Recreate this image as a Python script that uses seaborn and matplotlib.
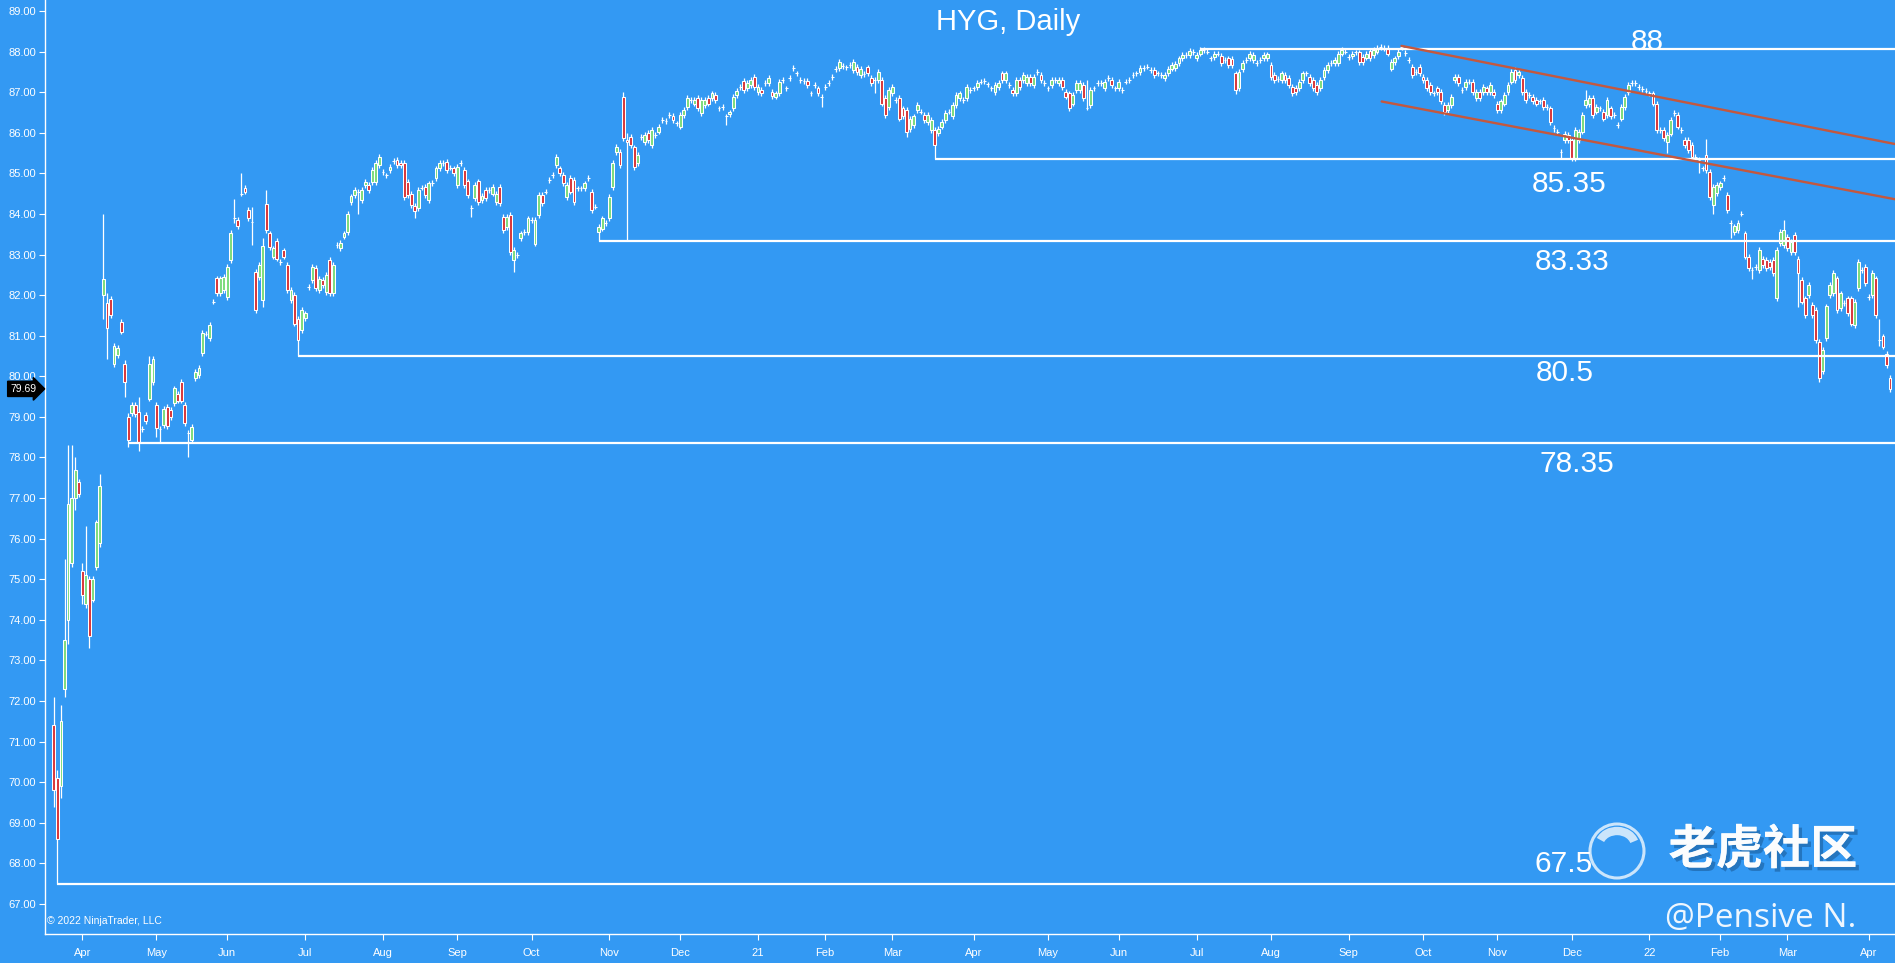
import numpy as np
import pandas as pd
import matplotlib
matplotlib.use("Agg")
import matplotlib.pyplot as plt
import matplotlib.patheffects as pe
from matplotlib.patches import Circle, Arc
from matplotlib.ticker import FormatStrFormatter
from matplotlib.transforms import blended_transform_factory
import seaborn as sns

# ---- DATA (HYG daily) ----
first_day = "2020-03-20"
last_day = "2022-04-11"
market_holidays = ["2020-04-10", "2020-05-25", "2020-07-03", "2020-09-07", "2020-11-26",
                   "2020-12-25", "2021-01-01", "2021-01-18", "2021-02-15", "2021-04-02",
                   "2021-05-31", "2021-07-05", "2021-09-06", "2021-11-25", "2021-12-24",
                   "2022-01-17", "2022-02-21"]

opens = [
    71.4, 70.1, 69.9, 72.3, 74.0, 75.4, 77.0, 77.4, 75.2, 74.4,
    75.0, 74.5, 75.3, 75.9, 82.0, 81.8, 81.9, 80.3, 80.53, 81.33,
    80.3, 79.0, 79.1, 79.29, 79.12, 78.7, 79.05, 79.45, 79.86, 79.3,
    78.7, 78.8, 79.25, 79.18, 79.35, 79.57, 79.86, 79.3, 78.6, 78.43,
    79.95, 80.03, 80.57, 81.05, 80.94, 81.84, 82.41, 82.04, 82.13, 81.96,
    82.86, 83.9, 83.85, 84.5, 84.65, 84.1, 83.8, 82.58, 82.45, 81.88,
    84.24, 83.52, 82.95, 83.34, 82.82, 83.1, 82.74, 81.88, 82.0, 81.42,
    81.14, 81.43, 82.2, 82.37, 82.66, 82.13, 82.37, 82.08, 82.86, 82.04,
    83.24, 83.15, 83.44, 83.56, 84.3, 84.47, 84.55, 84.34, 84.71, 84.71,
    84.79, 84.79, 85.2, 85.04, 84.95, 85.08, 85.3, 85.33, 85.25, 85.25,
    84.79, 84.5, 84.2, 84.14, 84.65, 84.67, 84.34, 84.77, 84.88, 85.12,
    85.25, 85.29, 85.14, 85.12, 84.71, 85.25, 85.08, 84.8, 84.14, 84.38,
    84.8, 84.34, 84.59, 84.59, 84.5, 84.3, 84.67, 83.93, 83.68, 83.97,
    82.86, 82.99, 83.4, 83.56, 83.56, 83.85, 83.27, 83.97, 84.47, 84.55,
    84.83, 84.96, 85.2, 85.12, 84.96, 84.42, 84.88, 84.83, 84.63, 84.63,
    84.63, 84.88, 84.55, 84.18, 83.55, 83.64, 83.77, 83.89, 84.67, 85.53,
    85.53, 86.87, 85.82, 85.9, 85.64, 85.25, 85.9, 85.78, 86.0, 85.7,
    85.94, 86.03, 86.31, 86.29, 86.44, 86.41, 86.23, 86.15, 86.44, 86.64,
    86.81, 86.72, 86.85, 86.48, 86.68, 86.85, 86.85, 86.93, 86.6, 86.64,
    86.4, 86.45, 86.6, 86.93, 87.13, 87.27, 87.09, 87.17, 87.38, 87.0,
    87.05, 87.22, 87.22, 87.0, 86.89, 86.97, 87.3, 87.09, 87.34, 87.59,
    87.46, 87.3, 87.28, 87.28, 86.97, 87.17, 87.09, 86.89, 87.13, 87.23,
    87.38, 87.57, 87.59, 87.64, 87.61, 87.67, 87.55, 87.63, 87.42, 87.45,
    87.61, 87.36, 87.3, 87.3, 87.3, 86.85, 86.64, 86.97, 86.81, 86.85,
    86.6, 86.56, 86.1, 86.19, 86.56, 86.52, 86.44, 86.27, 86.07, 86.07,
    86.0, 86.15, 86.31, 86.52, 86.4, 86.68, 86.85, 86.8, 86.85, 87.05,
    87.09, 87.13, 87.26, 87.28, 87.19, 87.09, 87.0, 87.13, 87.46, 87.3,
    87.17, 87.05, 86.97, 87.3, 87.3, 87.22, 87.38, 87.17, 87.5, 87.42,
    87.22, 87.09, 87.17, 87.3, 87.22, 87.31, 87.01, 86.97, 86.72, 87.05,
    87.05, 87.17, 86.6, 86.68, 87.09, 87.22, 87.22, 87.1, 87.34, 87.3,
    87.09, 87.1, 87.05, 87.26, 87.3, 87.42, 87.46, 87.5, 87.59, 87.63,
    87.55, 87.55, 87.46, 87.42, 87.34, 87.46, 87.58, 87.6, 87.71, 87.83,
    87.91, 87.91, 87.99, 87.83, 87.95, 88.04, 88.0, 87.83, 87.87, 87.95,
    87.89, 87.79, 87.83, 87.81, 87.46, 87.09, 87.56, 87.79, 87.83, 87.79,
    87.71, 87.79, 87.83, 87.83, 87.67, 87.42, 87.32, 87.3, 87.42, 87.34,
    87.13, 87.1, 87.09, 87.3, 87.46, 87.38, 87.3, 87.17, 87.09, 87.38,
    87.55, 87.72, 87.72, 87.71, 87.95, 88.0, 87.87, 87.88, 87.98, 87.98,
    87.87, 87.85, 88.02, 87.91, 88.0, 88.12, 88.08, 88.08, 87.58, 87.75,
    87.89, 88.12, 87.96, 87.79, 87.63, 87.5, 87.63, 87.38, 87.31, 87.17,
    86.97, 87.09, 87.01, 86.68, 86.56, 86.68, 87.3, 87.38, 87.05, 87.13,
    87.26, 87.26, 86.85, 87.01, 87.01, 87.09, 87.01, 87.01, 86.72, 86.56,
    86.72, 87.01, 87.26, 87.55, 87.42, 87.34, 87.01, 86.93, 86.89, 86.81,
    86.77, 86.81, 86.64, 86.6, 86.11, 86.03, 85.53, 85.82, 85.94, 85.82,
    85.37, 85.82, 86.03, 86.68, 86.7, 86.85, 86.52, 86.6, 86.52, 86.44,
    86.6, 86.44, 86.19, 86.35, 86.64, 87.01, 87.22, 87.22, 87.13, 87.07,
    87.03, 86.97, 86.97, 86.72, 86.07, 86.07, 85.78, 85.98, 86.48, 86.44,
    86.07, 85.82, 85.82, 85.7, 85.41, 85.33, 85.12, 85.45, 85.04, 84.22,
    84.51, 84.67, 84.88, 84.47, 83.77, 83.56, 83.6, 84.01, 83.52, 82.95,
    82.62, 82.7, 82.62, 82.9, 82.86, 82.82, 82.86, 81.92, 83.28, 83.23,
    83.44, 83.07, 83.48, 82.9, 82.37, 81.92, 82.0, 81.76, 81.63, 80.85,
    80.12, 80.94, 82.0, 82.04, 82.41, 81.67, 81.8, 81.92, 81.92, 81.26,
    82.17, 82.62, 82.7, 81.96, 82.0, 82.41, 80.89, 80.98, 80.56, 79.95,
]

closes = [
    69.8, 68.6, 71.5, 73.5, 76.85, 77.0, 77.7, 77.1, 74.6, 75.1,
    73.6, 75.0, 76.4, 77.3, 82.4, 81.2, 81.5, 80.75, 80.7, 81.1,
    79.86, 78.44, 79.3, 79.06, 78.38, 78.7, 78.9, 80.3, 80.43, 78.73,
    78.7, 79.2, 78.77, 79.0, 79.7, 79.4, 79.4, 78.85, 78.6, 78.76,
    80.11, 80.2, 81.06, 81.05, 81.26, 81.84, 82.04, 82.41, 82.45, 82.7,
    83.54, 83.9, 83.7, 84.5, 84.55, 83.9, 83.8, 81.63, 82.74, 83.22,
    83.6, 83.19, 83.15, 82.9, 82.82, 82.95, 82.13, 82.13, 81.3, 80.9,
    81.63, 81.55, 82.2, 82.7, 82.17, 82.4, 82.25, 82.5, 82.04, 82.74,
    83.24, 83.28, 83.52, 84.0, 84.43, 84.59, 84.55, 84.59, 84.79, 84.59,
    85.08, 85.25, 85.41, 85.04, 84.95, 85.16, 85.3, 85.2, 85.2, 84.42,
    84.47, 84.22, 84.06, 84.59, 84.65, 84.47, 84.75, 84.77, 85.12, 85.25,
    85.25, 85.08, 85.14, 85.0, 85.16, 85.25, 84.71, 84.47, 84.14, 84.71,
    84.3, 84.44, 84.38, 84.59, 84.67, 84.5, 84.26, 83.6, 83.93, 83.07,
    83.11, 82.99, 83.52, 83.56, 83.89, 83.85, 83.85, 84.47, 84.26, 84.55,
    84.83, 84.96, 85.41, 85.0, 84.75, 84.71, 84.55, 84.3, 84.63, 84.63,
    84.75, 84.88, 84.1, 84.18, 83.68, 83.89, 83.77, 84.42, 85.25, 85.66,
    85.2, 85.86, 85.78, 85.7, 85.16, 85.45, 85.9, 85.94, 85.82, 86.07,
    85.94, 86.15, 86.31, 86.29, 86.44, 86.31, 86.23, 86.44, 86.56, 86.85,
    86.81, 86.81, 86.6, 86.81, 86.81, 86.72, 86.97, 86.81, 86.6, 86.64,
    86.4, 86.5, 86.89, 87.04, 87.13, 87.05, 87.22, 87.3, 87.13, 87.13,
    86.97, 87.22, 87.34, 86.91, 86.97, 87.26, 87.3, 87.09, 87.34, 87.59,
    87.46, 87.3, 87.28, 87.17, 86.97, 87.17, 86.97, 86.89, 87.13, 87.23,
    87.38, 87.57, 87.75, 87.64, 87.61, 87.67, 87.75, 87.5, 87.58, 87.45,
    87.46, 87.22, 87.3, 87.5, 86.72, 86.44, 87.05, 87.13, 86.8, 86.35,
    86.4, 86.03, 86.35, 86.4, 86.68, 86.52, 86.31, 86.44, 86.31, 85.7,
    86.1, 86.27, 86.48, 86.52, 86.68, 86.93, 86.97, 86.8, 87.13, 87.05,
    87.09, 87.23, 87.26, 87.28, 87.19, 87.09, 87.17, 87.22, 87.3, 87.46,
    87.17, 86.97, 87.3, 87.13, 87.42, 87.38, 87.22, 87.38, 87.5, 87.3,
    87.22, 87.09, 87.3, 87.3, 87.31, 87.13, 86.89, 86.6, 86.93, 87.22,
    87.22, 86.85, 86.6, 87.05, 87.09, 87.22, 87.22, 87.25, 87.34, 87.17,
    87.09, 87.25, 87.05, 87.26, 87.3, 87.42, 87.46, 87.59, 87.59, 87.63,
    87.55, 87.42, 87.46, 87.42, 87.42, 87.58, 87.67, 87.7, 87.83, 87.91,
    87.91, 88.02, 87.99, 87.91, 88.05, 88.04, 88.0, 87.83, 87.95, 87.95,
    87.71, 87.79, 87.67, 87.67, 87.05, 87.5, 87.71, 87.79, 87.94, 87.91,
    87.71, 87.79, 87.91, 87.93, 87.38, 87.3, 87.32, 87.46, 87.3, 87.17,
    86.97, 87.0, 87.26, 87.46, 87.46, 87.22, 87.09, 87.01, 87.3, 87.55,
    87.67, 87.72, 87.79, 87.95, 88.04, 88.0, 87.87, 87.95, 87.98, 87.75,
    87.75, 87.95, 87.83, 88.04, 88.08, 88.12, 88.08, 87.95, 87.75, 87.83,
    88.0, 88.12, 87.96, 87.79, 87.42, 87.5, 87.46, 87.3, 87.09, 87.01,
    86.97, 87.01, 86.77, 86.52, 86.68, 86.89, 87.38, 87.22, 87.05, 87.26,
    87.26, 87.01, 87.01, 86.85, 87.13, 87.01, 87.17, 86.93, 86.56, 86.77,
    86.93, 87.17, 87.5, 87.3, 87.5, 87.01, 86.81, 86.93, 86.77, 86.72,
    86.77, 86.64, 86.64, 86.27, 86.11, 86.03, 85.53, 85.98, 85.82, 85.37,
    86.07, 86.03, 86.44, 86.81, 86.85, 86.44, 86.64, 86.6, 86.35, 86.81,
    86.4, 86.44, 86.19, 86.64, 86.89, 87.17, 87.22, 87.22, 87.13, 87.07,
    87.03, 86.97, 86.72, 86.07, 86.07, 85.86, 85.94, 86.31, 86.48, 86.15,
    86.07, 85.7, 85.57, 85.41, 85.41, 85.33, 85.12, 85.08, 84.42, 84.67,
    84.71, 84.75, 84.88, 84.1, 83.77, 83.69, 83.77, 84.01, 82.95, 82.66,
    82.62, 82.7, 83.11, 82.74, 82.66, 82.7, 82.54, 83.11, 83.56, 83.6,
    83.15, 83.32, 83.07, 82.54, 81.84, 81.51, 82.25, 81.51, 80.9, 79.95,
    80.65, 81.72, 82.25, 82.54, 81.63, 82.04, 81.8, 81.55, 81.3, 81.84,
    82.82, 82.62, 82.29, 81.96, 82.54, 81.51, 80.89, 80.73, 80.28, 79.69,
]

# long wicks that stand out (candle index -> price)
wick_high = {0: 72.1, 1: 70.3, 2: 71.9, 3: 75.5, 4: 78.3, 5: 78.3, 6: 78.0, 8: 75.4,
             9: 76.3, 13: 77.6, 14: 84.0, 15: 82.06, 20: 80.4, 21: 79.1, 24: 79.5,
             27: 80.5, 51: 84.36, 53: 85.0, 56: 84.18, 59: 83.4, 60: 84.6, 161: 87.0,
             162: 86.0, 292: 87.3, 381: 88.15, 433: 87.05, 467: 85.85, 489: 83.85,
             516: 81.4}
wick_low = {0: 69.4, 1: 67.5, 2: 69.6, 3: 72.1, 4: 73.4, 5: 75.3, 6: 76.7, 8: 74.4,
            9: 74.3, 10: 73.3, 13: 75.8, 14: 81.4, 15: 80.43, 20: 79.5, 21: 78.27,
            24: 78.16, 29: 78.5, 30: 78.35, 38: 78.0, 51: 83.77, 56: 83.23, 59: 81.7,
            69: 80.5, 86: 84.0, 102: 83.89, 118: 83.93, 130: 82.57, 154: 83.33,
            162: 83.33, 190: 86.2, 217: 86.64, 232: 86.97, 241: 85.9, 249: 85.35,
            292: 86.55, 334: 86.95, 393: 86.44, 424: 86.03, 426: 85.37, 429: 85.3,
            456: 85.5, 465: 85.0, 469: 84.0, 474: 83.4, 480: 82.4, 487: 81.85,
            493: 81.7, 499: 79.87, 516: 80.75}

# horizontal support / resistance lines
level_values = [88.06, 85.35, 83.33, 80.5, 78.35, 67.5]
level_start = [324, 249, 154, 69, 21, 1]
level_text = ["88", "85.35", "83.33", "80.5", "78.35", "67.5"]

# falling channel (candle index, price)
trend_x0 = [380.9, 375.3]
trend_y0 = [88.14, 86.77]
trend_x1 = [520.5, 520.5]
trend_y1 = [85.72, 84.36]

last_price = 79.69

# ---- style ----
BG = "#3399f3"
UP = "#7ddc7d"
DOWN = "#d8383c"
TREND = "#c4583f"
W, H = 1895, 963

sns.set_theme(style="ticks")
plt.rcParams['font.family'] = ['Liberation Sans', 'DejaVu Sans']

dates = pd.bdate_range(first_day, last_day)
dates = dates[~dates.isin(pd.to_datetime(market_holidays))]
n = min(len(dates), len(opens), len(closes))
dates = dates[:n]
idx = np.arange(n)
o = np.array(opens[:n])
c = np.array(closes[:n])

wick = 0.07  # default wick length
hi = np.maximum(o, c) + wick
lo = np.minimum(o, c) - wick
for k, v in wick_high.items():
    if k < n:
        hi[k] = v
for k, v in wick_low.items():
    if k < n:
        lo[k] = v

fig = plt.figure(figsize=(W / 100, H / 100), dpi=100, facecolor=BG)
ax = fig.add_axes([44.7 / W, 29 / H, 1 - 44.7 / W, 934 / H])
ax.set_facecolor(BG)

# candles
ax.vlines(idx, lo, hi, color="white", lw=0.9, zorder=2)
up = c >= o
ax.bar(idx[up], (c - o)[up], bottom=o[up], width=0.8, color=UP,
       edgecolor="white", linewidth=0.75, zorder=3)
ax.bar(idx[~up], (c - o)[~up], bottom=o[~up], width=0.8, color=DOWN,
       edgecolor="white", linewidth=0.75, zorder=3)

# levels
for lvl, start in zip(level_values, level_start):
    ax.hlines(lvl, start, 540, color="white", lw=1.6, zorder=4)

label_pos = [(450.4, 88.23), (428.2, 84.74), (429.2, 82.81), (427.0, 80.07),
             (430.4, 77.84), (426.7, 67.98)]
for txt, (lx, ly) in zip(level_text, label_pos):
    ax.text(lx, ly, txt, color="white", fontsize=21.5, ha="center", va="center", zorder=6)

# trend channel
trend_df = pd.DataFrame({
    "x": trend_x0 + trend_x1,
    "y": trend_y0 + trend_y1,
    "line": [0, 1, 0, 1],
})
sns.lineplot(data=trend_df, x="x", y="y", units="line", estimator=None,
             color=TREND, lw=1.7, ax=ax, legend=False, zorder=5)

ax.set_xlim(-2.6, 520.4)
ax.set_ylim(66.26, 89.27)
ax.set_xlabel("")
ax.set_ylabel("")

# axes cosmetics
for s in ["top", "right"]:
    ax.spines[s].set_visible(False)
for s in ["left", "bottom"]:
    ax.spines[s].set_color("white")
    ax.spines[s].set_linewidth(1.0)

ax.set_yticks(np.arange(67, 90, 1))
ax.yaxis.set_major_formatter(FormatStrFormatter("%.2f"))

month_first = pd.Series(idx, index=dates).groupby([dates.year, dates.month]).min()
tick_pos, tick_lab = [], []
for (yr, mo), pos in month_first.items():
    if pos == 0:
        continue
    tick_pos.append(pos)
    tick_lab.append(str(yr)[2:] if mo == 1 else dates[pos].strftime("%b"))
ax.set_xticks(tick_pos)
ax.set_xticklabels(tick_lab)
ax.tick_params(axis="both", colors="white", labelcolor="white", labelsize=8,
               length=4, width=0.8, direction="out")
ax.tick_params(axis="x", pad=6)
ax.tick_params(axis="y", pad=2)

# last price marker
tr = blended_transform_factory(ax.transAxes, ax.transData)
ax.text(-0.0045, last_price, f"{last_price:.2f}", transform=tr, ha="right", va="center",
        fontsize=7.5, color="white", zorder=10, clip_on=False,
        bbox=dict(boxstyle="rarrow,pad=0.25", fc="black", ec="black"))

ax.text(0.0012, 0.014, "\u00a9 2022 NinjaTrader, LLC", transform=ax.transAxes,
        fontsize=7.5, color="white", ha="left", va="center")

# overlay in pixel units for title and watermarks
ov = fig.add_axes([0, 0, 1, 1], facecolor="none")
ov.set_xlim(0, W)
ov.set_ylim(H, 0)
ov.axis("off")

ov.text(1008, 22, "HYG, Daily", color="white", fontsize=21, ha="center", va="center")

shadow = [pe.withSimplePatchShadow(offset=(2.5, -2.5), shadow_rgbFace="#1b5d9c", alpha=0.6),
          pe.Normal()]
ov.text(1763, 850, "老虎社区", color="white", alpha=0.88, fontsize=34,
        family=["Noto Sans CJK SC", "DejaVu Sans"], fontweight="bold",
        ha="center", va="center", path_effects=shadow)
ring = Circle((1617, 851), 27, fill=False, ec="white", lw=2.2, alpha=0.75)
ov.add_patch(ring)
tail = Arc((1617, 846), 36, 30, theta1=200, theta2=345, ec="white", lw=6, alpha=0.75)
ov.add_patch(tail)
ov.text(1761, 919, "@Pensive N.", color="white", alpha=0.92, fontsize=24,
        family=["Open Sans", "DejaVu Sans"], ha="center", va="center")

fig.savefig("out.png", dpi=100, facecolor=BG)
